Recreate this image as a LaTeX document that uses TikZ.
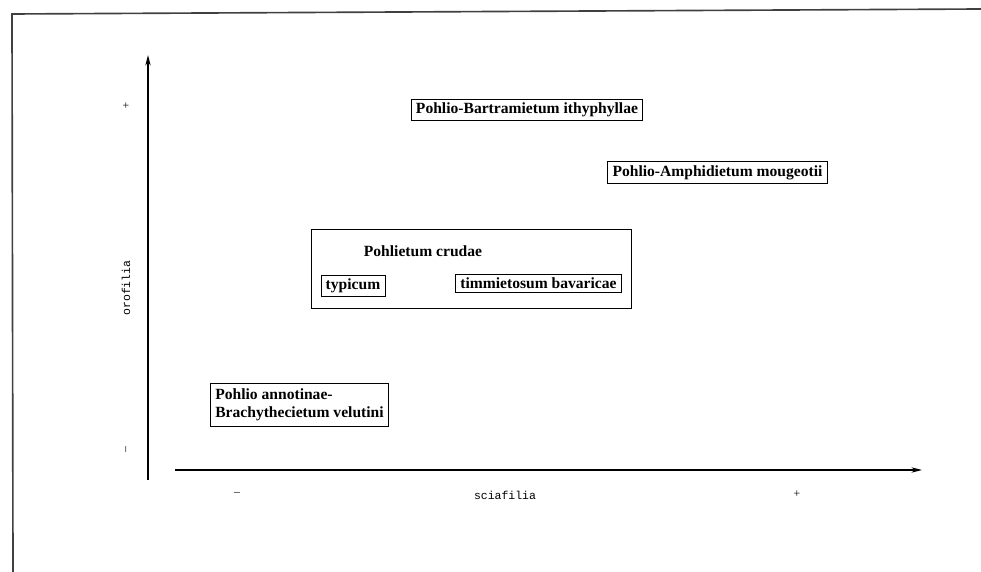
\documentclass[tikz,border=0pt]{standalone}
\usepackage{fontspec}
\setmainfont{Liberation Serif}
\setmonofont{Liberation Mono}
\usetikzlibrary{arrows.meta}

\tikzset{
  assoc/.style={draw, line width=0.7pt, inner xsep=4pt, inner ysep=3pt,
    font=\bfseries\fontsize{13.3}{15}\selectfont},
  asslabel/.style={font=\bfseries\fontsize{13.3}{15}\selectfont},
  axlabel/.style={font=\ttfamily\fontsize{9.8}{11}\selectfont},
  segno/.style={font=\fontsize{10}{11}\selectfont},
  asse/.style={line width=1.2pt, -{Stealth[length=9pt, width=4.5pt]}}
}

\begin{document}
\begin{tikzpicture}[x=0.03cm, y=-0.03cm]
  \useasboundingbox (0,0) rectangle (981,572);

  % cornice della pagina
  \draw[line width=1.4pt, black!75] (13,572) -- (12,14) -- (981,9);

  % assi
  \coordinate (yo) at (148,480);
  \coordinate (ytop) at (148,55);
  \coordinate (xo) at (175,470);
  \coordinate (xend) at (922,470);
  \draw[asse] (yo) -- (ytop);
  \draw[asse] (xo) -- (xend);

  \node[axlabel, rotate=90] (oro) at (126,288) {orofilia};
  \node[segno] (ypiu) at (126,106) {+};
  \node[segno, rotate=90] (ymeno) at (127,450) {–};
  \node[axlabel] (scia) at (505,495) {sciafilia};
  \node[segno] (xmeno) at (237,494) {–};
  \node[segno] (xpiu) at (797,494) {+};

  % associazioni
  \node[assoc] (bartr) at (527,110) {Pohlio-Bartramietum ithyphyllae};
  \node[assoc] (amphid) at (717.5,172.5) {Pohlio-Amphidietum mougeotii};

  \node[draw, line width=0.7pt, minimum width=9.6cm, minimum height=2.37cm] (crudae) at (471.5,268.5) {};
  \node[asslabel] (crudaetit) at (423,251) {Pohlietum crudae};
  \node[assoc] (typicum) at (353,286) {typicum};
  \node[assoc] (timmiet) at (538.5,283.5) {timmietosum bavaricae};

  \node[assoc, align=left, inner ysep=5pt] (annot) at (299.5,405) {Pohlio annotinae-\\Brachythecietum velutini};
\end{tikzpicture}
\end{document}
